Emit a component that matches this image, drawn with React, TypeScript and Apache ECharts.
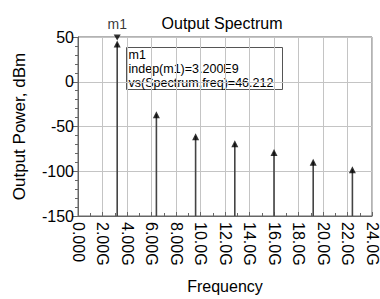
import React, { useEffect, useRef } from "react";
import * as echarts from "echarts";

const freqsGHz = [3.2, 6.4, 9.6, 12.8, 16.0, 19.2, 22.4];
const powerDbm = [46.212, -33, -57.5, -65.5, -75, -86, -94.5];
const xTickLabels = ["0.000", "2.00G", "4.00G", "6.00G", "8.00G", "10.0G", "12.0G", "14.0G", "16.0G", "18.0G", "20.0G", "22.0G", "24.0G"];
const markerName = "m1";
const markerLines = ["m1", "indep(m1)=3.200E9", "vs(Spectrum,freq)=46.212"];

const FONT = "'Liberation Sans', Arial, sans-serif";

export default function App() {
  const ref = useRef<HTMLDivElement>(null);
  useEffect(() => {
    if (!ref.current) return;
    const chart = echarts.init(ref.current, null, { renderer: "svg" });
    const pts = freqsGHz.map((f, i) => [f, powerDbm[i]]);
    chart.setOption({
      animation: false,
      backgroundColor: "#fff",
      textStyle: { fontFamily: FONT },
      title: {
        text: "Output Spectrum",
        left: 217,
        top: 10,
        textAlign: "center",
        textStyle: { fontSize: 16, fontWeight: "normal", color: "#000", fontFamily: FONT },
      },
      grid: {
        left: 78,
        right: 8,
        top: 37,
        bottom: 82,
        show: true,
        borderColor: "#666",
        borderWidth: 1,
        backgroundColor: "transparent",
      },
      xAxis: {
        type: "value",
        min: 0,
        max: 24,
        interval: 2,
        name: "Frequency",
        nameLocation: "middle",
        nameGap: 62,
        nameTextStyle: { fontSize: 16, color: "#000", fontFamily: FONT },
        axisLine: { show: true, onZero: false, lineStyle: { color: "#666" } },
        axisTick: { show: true, inside: true, length: 4, lineStyle: { color: "#666" } },
        minorTick: { show: true, splitNumber: 2, length: 3, lineStyle: { color: "#666" } },
        splitLine: { show: true, lineStyle: { color: "#c4c4c4", width: 1 } },
        axisLabel: {
          rotate: -90,
          fontSize: 16,
          color: "#000",
          margin: 6,
          fontFamily: FONT,
          formatter: (v: number) => xTickLabels[Math.round(v / 2)] ?? "",
        },
      },
      yAxis: {
        type: "value",
        min: -150,
        max: 50,
        interval: 50,
        name: "Output Power, dBm",
        nameLocation: "middle",
        nameGap: 50,
        nameTextStyle: { fontSize: 17, color: "#000", fontFamily: FONT },
        axisLine: { show: true, lineStyle: { color: "#666" } },
        axisTick: { show: true, inside: false, length: 5, lineStyle: { color: "#666" } },
        minorTick: { show: true, splitNumber: 5, length: 3, lineStyle: { color: "#666" } },
        splitLine: { show: true, lineStyle: { color: "#c4c4c4", width: 1 } },
        axisLabel: { fontSize: 16, color: "#000", margin: 4, fontFamily: FONT },
      },
      series: [
        {
          type: "custom",
          data: pts,
          renderItem: (params: any, api: any) => {
            const x = api.value(0);
            const y = api.value(1);
            const p0 = api.coord([x, -150]);
            const p1 = api.coord([x, y]);
            return {
              type: "line",
              shape: { x1: p0[0], y1: p0[1], x2: p1[0], y2: p1[1] + 3 },
              style: { stroke: "#444", lineWidth: 1.6 },
            };
          },
          z: 3,
        },
        {
          type: "scatter",
          data: pts,
          symbol: "triangle",
          symbolSize: [7, 7],
          symbolOffset: [0, "50%"],
          itemStyle: { color: "#000" },
          z: 4,
        },
        {
          type: "scatter",
          data: [pts[0]],
          symbol: "triangle",
          symbolSize: [7, 6],
          symbolRotate: 180,
          symbolOffset: [0, "-50%"],
          itemStyle: { color: "#000" },
          label: {
            show: true,
            position: "top",
            distance: 3,
            formatter: markerName,
            fontSize: 14,
            color: "#000",
            fontFamily: FONT,
          },
          z: 4,
        },
      ],
      graphic: [
        {
          type: "group",
          left: 126,
          top: 47,
          z: 10,
          children: [
            {
              type: "rect",
              shape: { x: 0, y: 0, width: 156, height: 42 },
              style: { fill: "#fff", stroke: "#555", lineWidth: 1 },
            },
            {
              type: "text",
              x: 2,
              y: 1,
              style: {
                text: markerLines.join("\n"),
                fontSize: 12.5,
                lineHeight: 13.7,
                fill: "#000",
                fontFamily: FONT,
              },
            },
          ],
        },
      ],
    });
    return () => chart.dispose();
  }, []);
  return (
    <div
      ref={ref}
      style={{ position: "fixed", left: 0, top: 0, width: 380, height: 299 }}
    />
  );
}
